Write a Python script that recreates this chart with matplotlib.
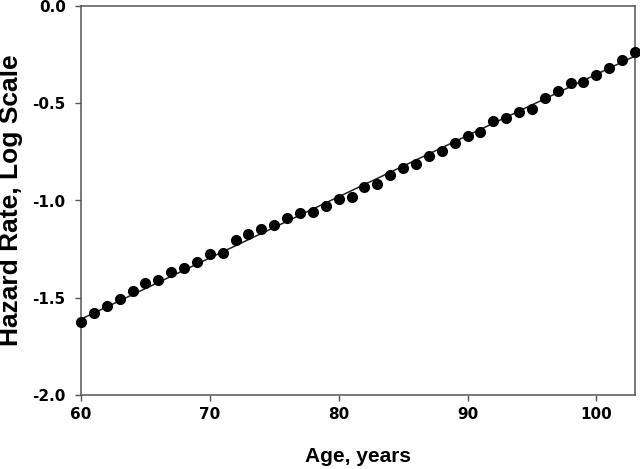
import matplotlib
matplotlib.use("Agg")
import matplotlib.pyplot as plt

ages = list(range(60, 104))
hazard_log = [
    -1.623, -1.577, -1.542, -1.506, -1.465, -1.423, -1.410, -1.366, -1.345, -1.315,
    -1.275, -1.268, -1.202, -1.172, -1.147, -1.124, -1.090, -1.064, -1.059, -1.028,
    -0.994, -0.980, -0.932, -0.914, -0.870, -0.833, -0.812, -0.773, -0.746, -0.703,
    -0.670, -0.648, -0.593, -0.577, -0.547, -0.528, -0.471, -0.437, -0.397, -0.392,
    -0.355, -0.320, -0.278, -0.235,
]
# regression line end points, as drawn
fit_ages = [60, 103]
fit_vals = [-1.61, -0.257]

plt.rcParams["font.family"] = ["Liberation Sans", "DejaVu Sans"]

fig = plt.figure(figsize=(6.4, 4.69), dpi=100)
ax = fig.add_axes([81 / 640, 1 - 395 / 469, (635 - 81) / 640, (395 - 6) / 469])

ax.plot(fit_ages, fit_vals, color="#222222", lw=1.1, zorder=2)
ax.plot(ages, hazard_log, "o", color="black", markersize=7, zorder=3, clip_on=False)

ax.set_xlim(60, 103)
ax.set_ylim(-2.0, 0.0)
ax.set_xticks([60, 70, 80, 90, 100])
ax.set_yticks([-2.0, -1.5, -1.0, -0.5, 0.0])
ax.set_yticklabels(["-2.0", "-1.5", "-1.0", "-0.5", "0.0"])
ax.tick_params(direction="out", length=4.5, width=1, color="#555555")
ax.tick_params(axis="x", pad=4)
ax.tick_params(axis="y", pad=6.5)
for lbl in ax.get_xticklabels() + ax.get_yticklabels():
    lbl.set_fontfamily("DejaVu Sans")
    lbl.set_fontweight("bold")
    lbl.set_fontsize(11)
for s in ax.spines.values():
    s.set_color("#555555")
    s.set_linewidth(1.1)

ax.set_xlabel("Age, years", fontsize=15, fontweight="bold", labelpad=18)
ax.set_ylabel("Hazard Rate, Log Scale", fontsize=19, fontweight="bold")
ax.yaxis.set_label_coords(-0.105, 0.5)

fig.savefig("out.png", dpi=100)
plt.close(fig)
